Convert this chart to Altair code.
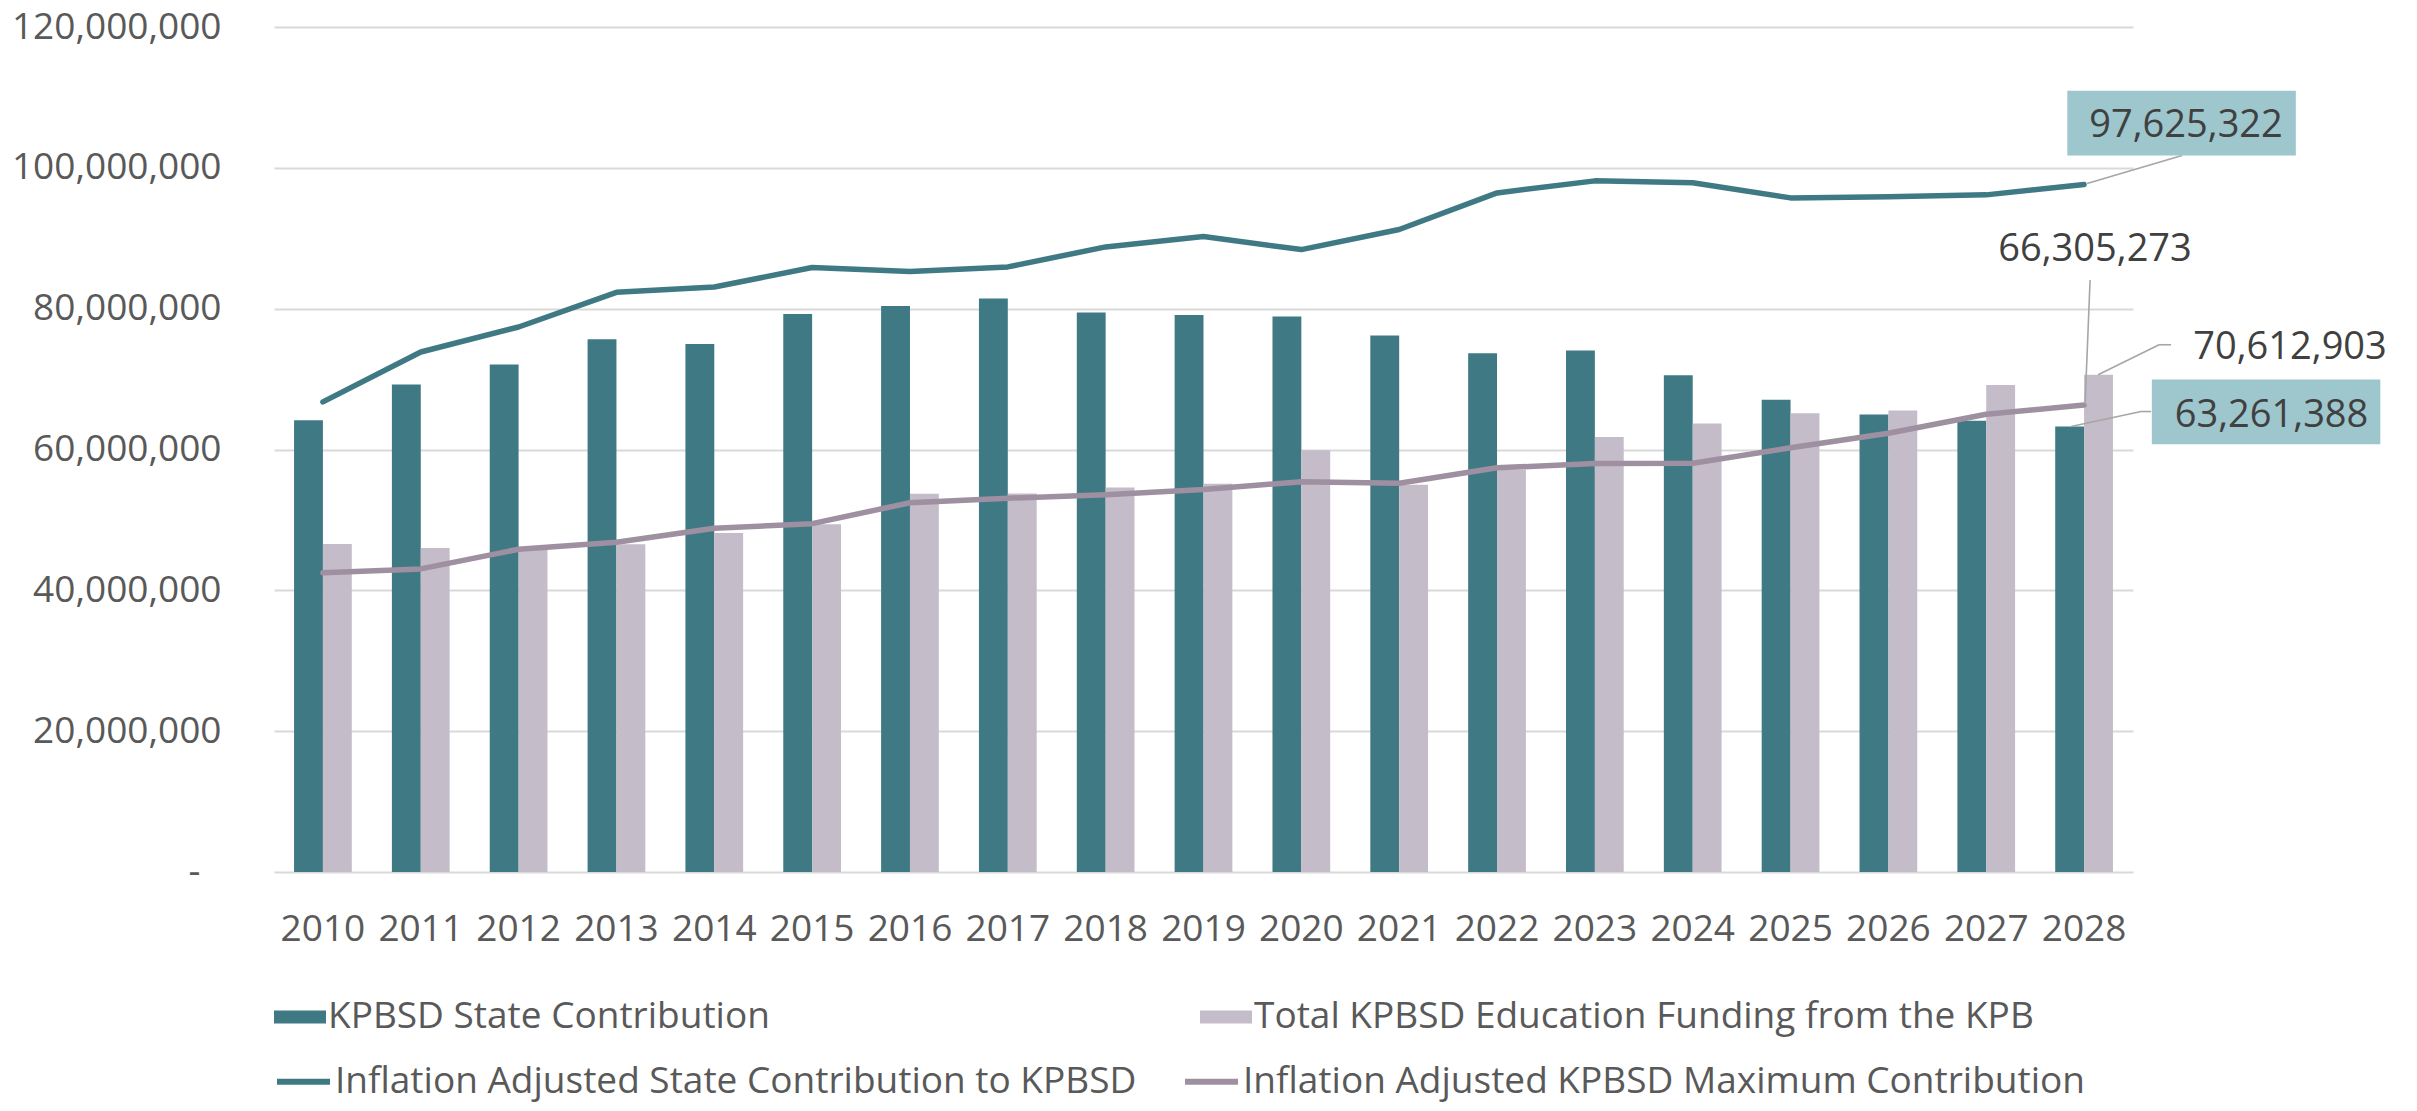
import altair as alt
import pandas as pd

# ---------------- data ----------------
years = list(range(2010, 2029))
state_contribution = [64160000, 69220000, 72060000, 75650000, 74990000, 79250000, 80390000,
                      81430000, 79450000, 79110000, 78880000, 76180000, 73670000, 74050000,
                      70550000, 67050000, 64970000, 64070000, 63261388]
kpb_funding = [46590000, 46020000, 45850000, 46540000, 48150000, 49380000, 53700000,
               53740000, 54590000, 55150000, 59890000, 55000000, 57150000, 61760000,
               63680000, 65160000, 65550000, 69150000, 70612903]
infl_state = [66760000, 73850000, 77400000, 82320000, 83070000, 85850000, 85270000,
              85930000, 88770000, 90240000, 88390000, 91240000, 96440000, 98150000,
              97870000, 95730000, 95880000, 96160000, 97625322]
infl_kpb_max = [42510000, 43040000, 45830000, 46830000, 48810000, 49470000, 52440000,
                53080000, 53570000, 54320000, 55430000, 55200000, 57400000, 58000000,
                58050000, 60250000, 62300000, 65000000, 66305273]

bar_series = ["KPBSD State Contribution", "Total KPBSD Education Funding from the KPB"]
line_series = ["Inflation Adjusted State Contribution to KPBSD",
               "Inflation Adjusted KPBSD Maximum Contribution"]
y_ticks = [0, 20000000, 40000000, 60000000, 80000000, 100000000, 120000000]

# ---------------- styles ----------------
TEAL = "#3F7A84"
LAV = "#C4BCC8"
PURPLE = "#9E8FA1"
BOX = "#9DC6CD"
GRID = "#D9D9D9"
AXIS_TXT = "#595959"
LBL_TXT = "#404040"
LEAD = "#A6A6A6"
FONT = "Open Sans"

bars_df = pd.DataFrame({
    "year": years * 2,
    "series": [bar_series[0]] * len(years) + [bar_series[1]] * len(years),
    "value": state_contribution + kpb_funding,
})
lines_df = pd.DataFrame({
    "year": years * 2,
    "series": [line_series[0]] * len(years) + [line_series[1]] * len(years),
    "value": infl_state + infl_kpb_max,
})

def last_point(values):
    return pd.DataFrame({"year": [years[-1]], "value": [values[-1]]})

x_enc = alt.X("year:O", title=None,
              scale=alt.Scale(paddingInner=0.41, paddingOuter=0.205),
              axis=alt.Axis(labelAngle=0, ticks=False, tickSize=0, domain=False,
                            labelPadding=39, labelFont=FONT, labelFontSize=37,
                            labelColor=AXIS_TXT, grid=False, labelLimit=1000))
y_enc = alt.Y("value:Q", title=None,
              scale=alt.Scale(domain=[0, 120000000], nice=False),
              axis=alt.Axis(values=y_ticks, grid=True, gridColor=GRID, gridWidth=2,
                            domain=False, ticks=False, tickSize=0, labelPadding=53,
                            labelFont=FONT, labelFontSize=37, labelColor=AXIS_TXT,
                            labelLimit=1000,
                            labelExpr="datum.value == 0 ? '-\u2007\u200b' : format(datum.value, ',')"))

bar_legend = alt.Legend(title=None, orient="none", legendX=0, legendY=964,
                        direction="horizontal", columns=2, columnPadding=430,
                        symbolType="M-1,-0.25L1,-0.25L1,0.25L-1,0.25Z", symbolSize=2704,
                        symbolStrokeWidth=0, labelFont=FONT, labelFontSize=37,
                        labelColor=AXIS_TXT, labelLimit=2000, labelOffset=2, padding=0)
line_legend = alt.Legend(title=None, orient="none", legendX=0, legendY=1025,
                         direction="horizontal", columns=2, columnPadding=36,
                         symbolType="stroke", symbolSize=2809, symbolStrokeWidth=6,
                         labelFont=FONT, labelFontSize=37, labelColor=AXIS_TXT,
                         labelLimit=2000, labelOffset=2, padding=0)

bars = alt.Chart(bars_df).mark_bar().encode(
    x=x_enc,
    xOffset=alt.XOffset("series:N", sort=bar_series,
                        scale=alt.Scale(paddingInner=0, paddingOuter=0)),
    y=y_enc,
    fill=alt.Fill("series:N", scale=alt.Scale(domain=bar_series, range=[TEAL, LAV]),
                  legend=bar_legend),
)

lines = alt.Chart(lines_df).mark_line(strokeWidth=5.5, strokeCap="round",
                                      strokeJoin="round").encode(
    x="year:O",
    y="value:Q",
    stroke=alt.Stroke("series:N", scale=alt.Scale(domain=line_series, range=[TEAL, PURPLE]),
                      legend=line_legend),
)

def leader(values, x1, y1, x2, y2):
    return alt.Chart(last_point(values)).mark_rule(
        color=LEAD, strokeWidth=1.6,
        xOffset=x1, yOffset=y1, x2Offset=x2, y2Offset=y2,
    ).encode(x="year:O", x2="year", y="value:Q", y2="value")

def box(values, dx, dy):
    return alt.Chart(last_point(values)).mark_point(
        shape="M-1,-0.283L1,-0.283L1,0.283L-1,0.283Z", size=52212, filled=True,
        color=BOX, opacity=1, strokeWidth=0, xOffset=dx, yOffset=dy,
    ).encode(x="year:O", y="value:Q")

def label(values, dx, dy):
    return alt.Chart(last_point(values)).mark_text(
        dx=dx, dy=dy, align="center", baseline="middle", font=FONT, fontSize=38,
        color=LBL_TXT,
    ).encode(x="year:O", y="value:Q", text=alt.Text("value:Q", format=","))

layers = [
    bars,
    lines,
    leader(infl_state, 3, -1, 98, -29),
    leader(infl_kpb_max, 1, -1, 6, -125),
    leader(kpb_funding, 14, 0, 75, -30),
    leader(kpb_funding, 75, -30, 87, -30),
    leader(state_contribution, -13, 0, 57, -15),
    leader(state_contribution, 57, -15, 67, -15),
    box(infl_state, 97.5, -61.5),
    box(state_contribution, 182, -14.6),
    label(infl_state, 102, -59),
    label(infl_kpb_max, 11, -155),
    label(kpb_funding, 206, -27),
    label(state_contribution, 187.5, -11),
]

chart = alt.layer(*layers).properties(
    width=1859, height=845,
    autosize=alt.AutoSizeParams(type="none"),
    padding={"left": 266, "top": 19, "right": 276, "bottom": 231},
).configure_view(stroke=None)

chart.save("out.html", embed_options={"renderer": "svg", "actions": False})
